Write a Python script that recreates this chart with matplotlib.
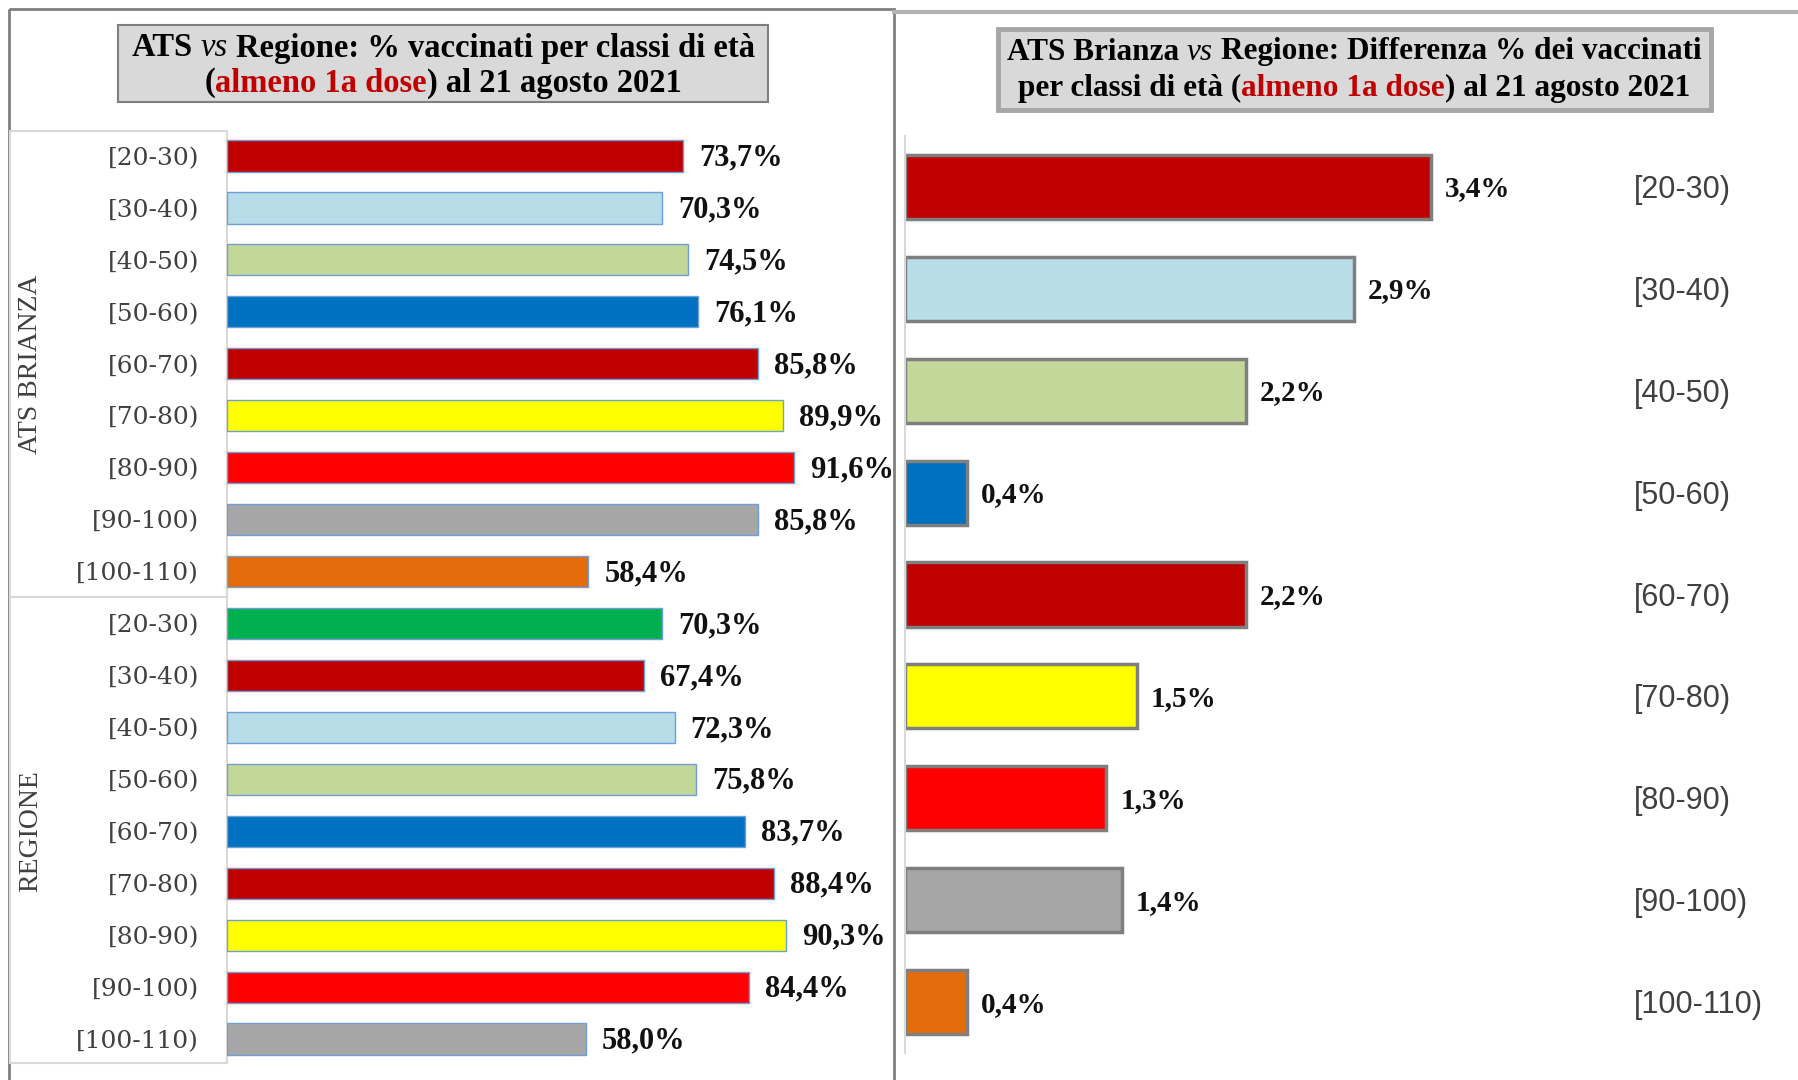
import numpy as np
import matplotlib
matplotlib.use("Agg")
import matplotlib.pyplot as plt
from matplotlib.patches import Rectangle

# dati
age_classes = ["[20-30)", "[30-40)", "[40-50)", "[50-60)", "[60-70)",
               "[70-80)", "[80-90)", "[90-100)", "[100-110)"]
ats_values = [73.7, 70.3, 74.5, 76.1, 85.8, 89.9, 91.6, 85.8, 58.4]
reg_values = [70.3, 67.4, 72.3, 75.8, 83.7, 88.4, 90.3, 84.4, 58.0]
diff_values = [3.4, 2.9, 2.2, 0.4, 2.2, 1.5, 1.3, 1.4, 0.4]

ats_colors = ["#c00000", "#b7dde8", "#c4d79b", "#0070c0", "#c00000",
              "#ffff00", "#ff0000", "#a6a6a6", "#e46c0a"]
reg_colors = ["#00b050", "#c00000", "#b7dde8", "#c4d79b", "#0070c0",
              "#c00000", "#ffff00", "#ff0000", "#a6a6a6"]
diff_colors = ats_colors

W, H = 1798, 1080
fig = plt.figure(figsize=(W / 100, H / 100), dpi=100)


def fig_box(x0, y0, x1, y1):
    """ pixel (dall'alto) -> coordinate figura """
    return [x0 / W, 1 - y1 / H, (x1 - x0) / W, (y1 - y0) / H]


# sfondo in pixel per cornici e titoli
bg = fig.add_axes([0, 0, 1, 1], zorder=0)
bg.set_xlim(0, W)
bg.set_ylim(H, 0)
bg.axis("off")

bg.add_patch(Rectangle((9, 9), 885, 1110, fill=False, ec="#7f7f7f", lw=2))
bg.plot([894, W], [12, 12], color="#b3b3b3", lw=3)

# riquadro etichette a sinistra
bg.add_patch(Rectangle((10, 131), 217, 932, fc="white", ec="#d9d9d9", lw=1.5))
bg.plot([10, 227], [597, 597], color="#d9d9d9", lw=1.5)

# titoli
bg.add_patch(Rectangle((118, 25), 650, 77, fc="#d9d9d9", ec="#7f7f7f", lw=1.5))
bg.add_patch(Rectangle((998, 29), 713, 81, fc="#d9d9d9", ec="#a6a6a6", lw=3.5))

TFONT = "Liberation Serif"


def rich_line(xc, y, parts, size):
    renderer = fig.canvas.get_renderer()
    space = 0.25 * size * 100 / 72
    texts, widths = [], []
    for s, gap, kw in parts:
        style = {"fontweight": "bold"}
        style.update(kw)
        t = bg.text(0, y, s, fontsize=size, family=TFONT,
                    va="center", ha="left", **style)
        texts.append(t)
        widths.append(t.get_window_extent(renderer).width + (space if gap else 0))
    x = xc - sum(widths) / 2
    for t, w, p in zip(texts, widths, parts):
        if p[1]:
            x += space
        t.set_x(x)
        x += w - (space if p[1] else 0)


red = "#c00000"
rich_line(443, 48, [("ATS", False, {}), ("vs", True, {"style": "italic", "fontweight": "normal"}),
                    ("Regione: % vaccinati per classi di età", True, {})], 23.5)
rich_line(443, 83, [("(", False, {}), ("almeno 1a dose", False, {"color": red}),
                    (") al 21 agosto 2021", False, {})], 23.5)
rich_line(1354, 52, [("ATS Brianza", False, {}), ("vs", True, {"style": "italic", "fontweight": "normal"}),
                     ("Regione: Differenza % dei vaccinati", True, {})], 22.5)
rich_line(1354, 88, [("per classi di età (", False, {}), ("almeno 1a dose", False, {"color": red}),
                     (") al 21 agosto 2021", False, {})], 22.5)

# pannello sinistro
ax = fig.add_axes(fig_box(227, 130, 894, 1065), zorder=1)
ax.patch.set_visible(False)
values = ats_values + reg_values
colors = ats_colors + reg_colors
labels = age_classes + age_classes
pos = np.arange(len(values))
bars = ax.barh(pos, values, height=0.6, color=colors, edgecolor="#6f9fd8", linewidth=1)
ax.set_xlim(0, 667 / 6.19)
ax.set_ylim(len(values) - 0.5, -0.5)
for s in ax.spines.values():
    s.set_visible(False)
ax.set_xticks([])
ax.set_yticks(pos)
ax.set_yticklabels(labels, family="DejaVu Serif", fontsize=18, color="#404040")
ax.tick_params(axis="y", length=0, pad=20)
for b, v in zip(bars, values):
    ax.annotate(f"{v:.1f}%".replace(".", ","), (v, b.get_y() + b.get_height() / 2),
                xytext=(11.5, -1.5), textcoords="offset points", va="center", ha="left",
                family=TFONT, fontweight="bold", fontsize=22, color="#111111")
ax.text(-0.294, 4, "ATS BRIANZA", transform=ax.get_yaxis_transform(), rotation=90,
        ha="center", va="center", family=TFONT, fontsize=20, color="#404040")
ax.text(-0.294, 13, "REGIONE", transform=ax.get_yaxis_transform(), rotation=90,
        ha="center", va="center", family=TFONT, fontsize=20, color="#404040")

# pannello destro
ax2 = fig.add_axes(fig_box(905, 136, W, 1053), zorder=1)
ax2.patch.set_visible(False)
pos2 = np.arange(len(diff_values))
bars2 = ax2.barh(pos2, diff_values, height=0.63, color=diff_colors,
                 edgecolor="#7f7f7f", linewidth=2.5)
ax2.set_xlim(0, 893 / 154.8)
ax2.set_ylim(len(diff_values) - 0.5, -0.5)
for k, s in ax2.spines.items():
    s.set_visible(k == "left")
ax2.spines["left"].set_color("#d9d9d9")
ax2.spines["left"].set_linewidth(1.5)
ax2.set_xticks([])
ax2.set_yticks([])
for b, v in zip(bars2, diff_values):
    ax2.annotate(f"{v:.1f}%".replace(".", ","), (v, b.get_y() + b.get_height() / 2),
                 xytext=(10, -1.5), textcoords="offset points", va="center", ha="left",
                 family=TFONT, fontweight="bold", fontsize=21, color="#111111")
for i, lab in enumerate(age_classes):
    ax2.text(0.816, i + 0.03, lab, transform=ax2.get_yaxis_transform(), ha="left", va="center",
             family="Liberation Sans", fontsize=22, color="#404040")

fig.savefig("out.png", dpi=100)
